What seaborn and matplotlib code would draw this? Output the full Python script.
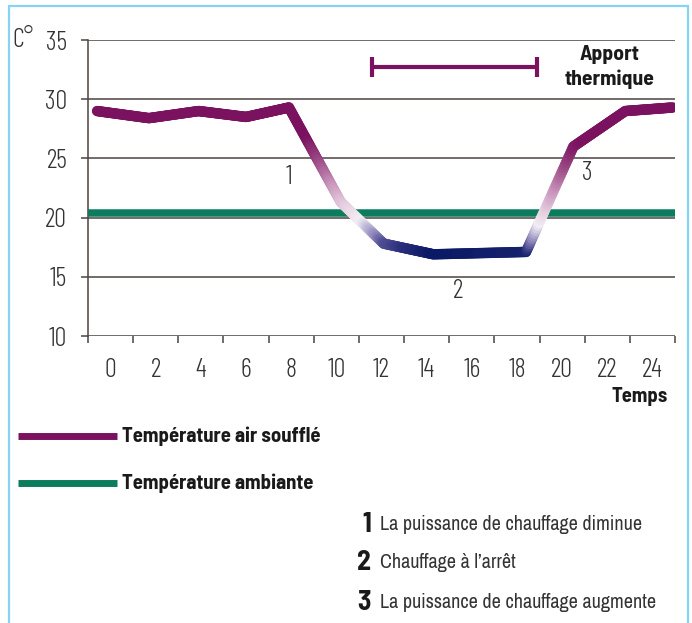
import matplotlib
matplotlib.use("Agg")
import matplotlib.pyplot as plt
import seaborn as sns
import pandas as pd
import numpy as np
from matplotlib.collections import LineCollection
from matplotlib.colors import LinearSegmentedColormap
from matplotlib.lines import Line2D

# data
hours_air = [-0.6, 1.7, 3.9, 6.0, 7.9, 10.2, 12.1, 14.3, 18.4, 20.5, 22.8, 24.9]
temp_air = [29.0, 28.4, 29.0, 28.5, 29.3, 21.3, 17.8, 16.9, 17.1, 26.0, 29.0, 29.3]
hours_ambient = [-1, 25]
temp_ambient = [20.4, 20.4]
hour_labels = [0, 2, 4, 6, 8, 10, 12, 14, 16, 18, 20, 22, 24]
temp_ticks = [10, 15, 20, 25, 30, 35]
apport_start, apport_end, apport_level = 11.6, 18.9, 32.7
phase_labels = ["1", "2", "3"]
phase_x = [7.9, 15.4, 21.1]
phase_y = [23.4, 13.8, 23.8]
notes = ["La puissance de chauffage diminue",
         "Chauffage à l\u2019arrêt",
         "La puissance de chauffage augmente"]

purple = "#7A1260"
green = "#0B7C5D"
navy = "#0B1A66"
grid_col = "#4D4240"
num_font = ["Barlow Condensed", "DejaVu Sans"]
txt_font = ["Archivo Narrow", "DejaVu Sans"]
bold_font = ["Barlow Semi Condensed", "DejaVu Sans"]

sns.set_style("white")
plt.rcParams['font.family'] = txt_font

fig = plt.figure(figsize=(6.92, 6.23), dpi=100)
ax = fig.add_axes([88 / 692, 1 - 336 / 623, 587 / 692, 296 / 623])

# ambient temperature
df_amb = pd.DataFrame({"h": hours_ambient, "t": temp_ambient})
sns.lineplot(data=df_amb, x="h", y="t", ax=ax, color=green, linewidth=5.4,
             solid_capstyle="butt", zorder=3)

# gradient line for supply air temperature
nodes = [(16.9, navy), (17.4, "#2B2E7C"), (18.3, "#8A82B8"), (19.6, "#F2EEF5"),
         (20.8, "#E6CFE0"), (22.5, "#C996BC"), (24.5, "#9C4A86"),
         (26.5, purple), (29.3, purple)]
lo, hi = nodes[0][0], nodes[-1][0]
cmap = LinearSegmentedColormap.from_list(
    "air", [((v - lo) / (hi - lo), c) for v, c in nodes])
segs, vals = [], []
for i in range(len(hours_air) - 1):
    xs = np.linspace(hours_air[i], hours_air[i + 1], 41)
    ys = np.linspace(temp_air[i], temp_air[i + 1], 41)
    for j in range(40):
        segs.append([(xs[j], ys[j]), (xs[j + 1], ys[j + 1])])
        vals.append((ys[j] + ys[j + 1]) / 2)
lc = LineCollection(segs, cmap=cmap, norm=plt.Normalize(lo, hi),
                    linewidths=7.5, capstyle="round", zorder=4)
lc.set_array(np.array(vals))
ax.add_collection(lc)

# axes styling
ax.set_xlim(-1, 25)
ax.set_ylim(10, 35)
ax.set_yticks(temp_ticks)
ax.set_yticklabels([str(t) for t in temp_ticks])
ax.set_xticks(hour_labels)
ax.set_xticklabels([str(h) for h in hour_labels])
ax.set_xticks(list(range(-1, 26, 2)), minor=True)
ax.tick_params(axis="x", which="major", length=0, pad=16, labelcolor="#333333")
ax.tick_params(axis="x", which="minor", length=5, width=1.1, color=grid_col,
               direction="out", bottom=True)
ax.tick_params(axis="y", length=5, width=1.1, color=grid_col, pad=10,
               labelcolor="#333333", left=True)
for lab in ax.get_xticklabels() + ax.get_yticklabels():
    lab.set_family(num_font)
    lab.set_fontweight(300)
    lab.set_fontsize(19)
ax.set_xlabel("")
ax.set_ylabel("")
for t in temp_ticks:
    ax.axhline(t, color=grid_col, linewidth=1.1, zorder=1)
for s in ["top", "right", "bottom"]:
    ax.spines[s].set_visible(False)
ax.spines["left"].set_color(grid_col)
ax.spines["left"].set_linewidth(1.1)
ax.patch.set_alpha(0)

# thermal input bracket
ax.errorbar((apport_start + apport_end) / 2, apport_level,
            xerr=(apport_end - apport_start) / 2, fmt="none", ecolor=purple,
            elinewidth=3, capsize=7, capthick=3)
apport = ax.text(22.1, apport_level, "Apport\nthermique", ha="center", va="center",
                 fontsize=13, fontweight="bold", color="#1a1a1a", linespacing=1.35,
                 family=bold_font)

for lab, x, y in zip(phase_labels, phase_x, phase_y):
    ax.text(x, y, lab, ha="center", va="center", fontsize=19, color="#333333",
            family=num_font, fontweight=300)

fig.text(12 / 692, 1 - 40 / 623, "C°", ha="left", va="center", fontsize=19,
         color="#333333", family=num_font, fontweight=300)
temps = fig.text(668 / 692, 1 - 396 / 623, "Temps", ha="right", va="center",
                 fontsize=13, fontweight="bold", color="#1a1a1a", family=bold_font)

# legend
legend_texts = []
for ypix, col, lab in [(436, purple, "Température air soufflé"),
                       (483, green, "Température ambiante")]:
    yf = 1 - ypix / 623
    fig.add_artist(Line2D([18 / 692, 117 / 692], [yf, yf], color=col,
                          linewidth=5, solid_capstyle="butt"))
    legend_texts.append(fig.text(122 / 692, yf, lab, ha="left", va="center",
                                 fontsize=13, fontweight="bold", color="#1a1a1a",
                                 family=bold_font))

# numbered notes
note_texts = []
for ypix, num, txt in zip([525, 563, 603], phase_labels, notes):
    yf = 1 - ypix / 623
    fig.text(371 / 692, yf, num, ha="right", va="center", fontsize=20,
             fontweight="bold", color="#1a1a1a", family=bold_font)
    note_texts.append(fig.text(380 / 692, yf, txt, ha="left", va="center",
                               fontsize=13, color="#333333"))

# size the texts so their widths match the reference
fig.canvas.draw()
renderer = fig.canvas.get_renderer()


def fit(ref, target_px, group):
    w = ref.get_window_extent(renderer).width
    scale = target_px / w
    for t in group:
        t.set_fontsize(t.get_fontsize() * scale)


fit(legend_texts[0], 199, legend_texts)
fit(note_texts[0], 263, note_texts)
fit(temps, 56, [temps])
fit(apport, 90, [apport])

# light blue frame
border = "#86D3F3"
fig.add_artist(Line2D([8.5 / 692, 8.5 / 692], [0, 1 - 6 / 623], color=border, linewidth=1.6))
fig.add_artist(Line2D([687.5 / 692, 687.5 / 692], [0, 1 - 6 / 623], color=border, linewidth=1.6))
fig.add_artist(Line2D([8.5 / 692, 687.5 / 692], [1 - 6 / 623, 1 - 6 / 623], color=border, linewidth=1.6))

fig.savefig("out.png", dpi=100)
